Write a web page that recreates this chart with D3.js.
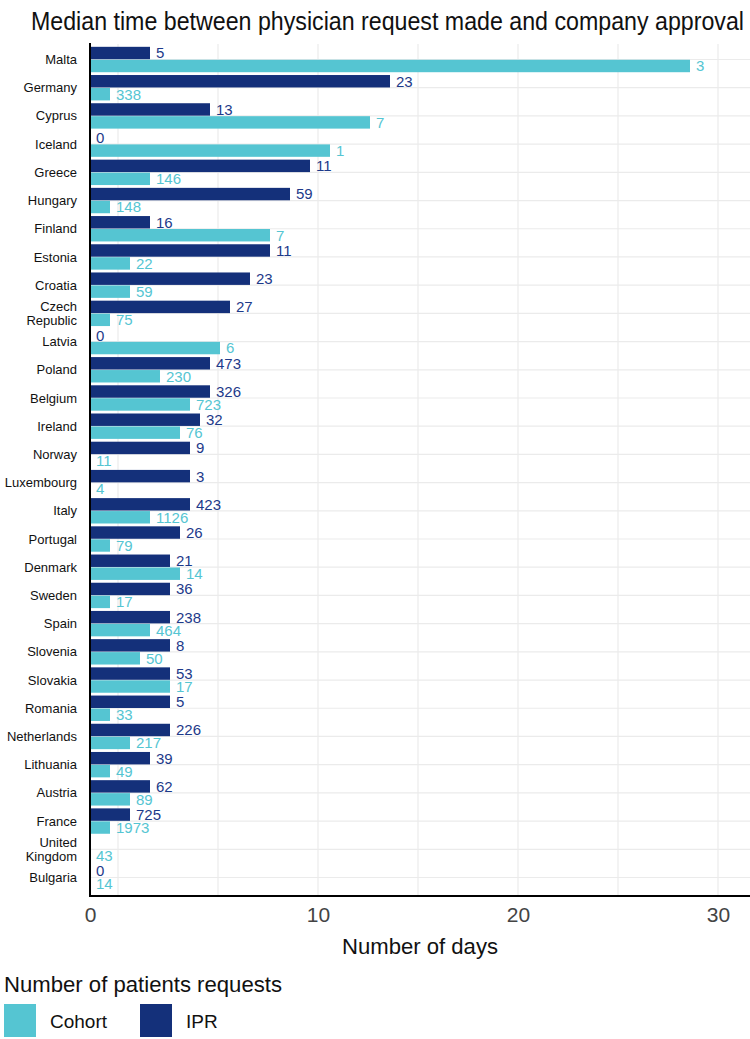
<!DOCTYPE html>
<html>
<head>
<meta charset="utf-8">
<script src="https://cdn.jsdelivr.net/npm/d3@7"></script>
<style>
  body { margin: 0; background: #fff; }
  svg { display: block; font-family: "Liberation Sans", Arial, sans-serif; }
</style>
</head>
<body>
<svg id="chart" width="750" height="1039"></svg>
<script>
// ---- data ----
const countries = ["Malta","Germany","Cyprus","Iceland","Greece","Hungary","Finland","Estonia","Croatia","Czech Republic","Latvia","Poland","Belgium","Ireland","Norway","Luxembourg","Italy","Portugal","Denmark","Sweden","Spain","Slovenia","Slovakia","Romania","Netherlands","Lithuania","Austria","France","United Kingdom","Bulgaria"];
// median number of days (bar length)
const iprDays    = [3,15,6,0,11,10,3,9,8,7,0,6,6,5.5,5,5,5,4.5,4,4,4,4,4,4,4,3,3,2,null,0];
const cohortDays = [30,1,14,12,3,1,9,2,2,1,6.5,3.5,5,4.5,0,0,3,1,4.5,1,3,2.5,4,1,2,1,2,1,0,0];
// number of patient requests (bar labels)
const iprRequests    = [5,23,13,0,11,59,16,11,23,27,0,473,326,32,9,3,423,26,21,36,238,8,53,5,226,39,62,725,null,0];
const cohortRequests = [3,338,7,1,146,148,7,22,59,75,6,230,723,76,11,4,1126,79,14,17,464,50,17,33,217,49,89,1973,43,14];
const seriesNames = ["IPR","Cohort"];
const legendOrder = ["Cohort","IPR"];
const tickLabels = [0,10,20,30];
const gridValues = [0,5,10,15,20,25,30];

const colors = { IPR: "#14307a", Cohort: "#55c5d2" };
const textColors = { IPR: "#1d3a8a", Cohort: "#55c5d2" };

const svg = d3.select("#chart");

// scales
const x = d3.scaleLinear().domain([0, 33]).range([90, 750]);
const xGrid = d3.scaleLinear().domain([0, 30]).range([118, 718]);
const xTickLabel = d3.scaleLinear().domain([0, 10, 30]).range([90, 318, 718]);
const y = d3.scaleBand().domain(countries).range([44, 893]).padding(0.1);
const ySub = d3.scaleBand().domain(seriesNames).range([0, y.bandwidth()]).paddingInner(0.04);

// title
svg.append("text")
  .attr("x", 31).attr("y", 30)
  .attr("font-size", 25)
  .attr("textLength", 713).attr("lengthAdjust", "spacingAndGlyphs")
  .attr("fill", "#111")
  .text("Median time between physician request made and company approval");

// grid
const grid = svg.append("g");
grid.selectAll("line.v").data(gridValues).join("line")
  .attr("class", "v")
  .attr("x1", d => xGrid(d)).attr("x2", d => xGrid(d))
  .attr("y1", 44).attr("y2", 896)
  .attr("stroke", "#ebebeb").attr("stroke-width", 1.2);
grid.selectAll("line.h").data(countries).join("line")
  .attr("class", "h")
  .attr("x1", 90).attr("x2", 750)
  .attr("y1", d => y(d) + y.bandwidth() / 2).attr("y2", d => y(d) + y.bandwidth() / 2)
  .attr("stroke", "#ebebeb").attr("stroke-width", 1.2);

// rows
const rows = countries.map((c, i) => ({
  country: c,
  values: [
    { key: "IPR", days: iprDays[i], n: iprRequests[i] },
    { key: "Cohort", days: cohortDays[i], n: cohortRequests[i] }
  ]
}));

const rowG = svg.append("g").selectAll("g").data(rows).join("g")
  .attr("transform", d => `translate(0,${y(d.country)})`);

rowG.selectAll("rect").data(d => d.values.filter(v => v.days !== null)).join("rect")
  .attr("x", x(0))
  .attr("y", d => ySub(d.key))
  .attr("width", d => x(d.days) - x(0))
  .attr("height", ySub.bandwidth())
  .attr("fill", d => colors[d.key]);

rowG.selectAll("text").data(d => d.values.filter(v => v.n !== null)).join("text")
  .attr("x", d => x(d.days) + 6)
  .attr("y", d => ySub(d.key) + ySub.bandwidth() / 2)
  .attr("dy", "0.36em")
  .attr("font-size", 15)
  .attr("fill", d => textColors[d.key])
  .text(d => d.n);

// y axis labels
const yLab = svg.append("g").selectAll("text").data(countries).join("text")
  .attr("x", 77)
  .attr("y", d => y(d) + y.bandwidth() / 2)
  .attr("text-anchor", "end")
  .attr("font-size", 13)
  .attr("fill", "#111");
yLab.each(function(d) {
  const words = d.split(" ");
  const t = d3.select(this);
  if (words.length === 1) {
    t.append("tspan").attr("x", 77).attr("dy", "0.35em").text(d);
  } else {
    t.append("tspan").attr("x", 77).attr("dy", "-0.2em").text(words[0]);
    t.append("tspan").attr("x", 77).attr("dy", "1.1em").text(words.slice(1).join(" "));
  }
});

// axes lines
svg.append("line").attr("x1", 90).attr("x2", 90).attr("y1", 43).attr("y2", 897)
  .attr("stroke", "#000").attr("stroke-width", 2);
svg.append("line").attr("x1", 89).attr("x2", 750).attr("y1", 896).attr("y2", 896)
  .attr("stroke", "#000").attr("stroke-width", 2);

// x tick labels
const xAxis = d3.axisBottom(xTickLabel).tickValues(tickLabels).tickSize(0).tickPadding(0).tickFormat(d3.format("d"));
const xAxisG = svg.append("g").attr("transform", "translate(0,907)").call(xAxis);
xAxisG.select(".domain").remove();
xAxisG.selectAll("text")
  .attr("font-size", 21)
  .attr("font-family", "'Liberation Sans', Arial, sans-serif")
  .attr("fill", "#444")
  .attr("dy", "0.71em");

// x axis title
svg.append("text")
  .attr("x", 342).attr("y", 954)
  .attr("font-size", 22)
  .attr("textLength", 156).attr("lengthAdjust", "spacingAndGlyphs")
  .attr("fill", "#111")
  .text("Number of days");

// legend
svg.append("text")
  .attr("x", 4).attr("y", 992)
  .attr("font-size", 22)
  .attr("textLength", 278).attr("lengthAdjust", "spacingAndGlyphs")
  .attr("fill", "#111")
  .text("Number of patients requests");

const legX = d3.scaleOrdinal().domain(legendOrder).range([4, 140]);
const leg = svg.append("g").selectAll("g").data(legendOrder).join("g")
  .attr("transform", d => `translate(${legX(d)},1004)`);
leg.append("rect").attr("width", 32).attr("height", 33).attr("fill", d => colors[d]);
leg.append("text")
  .attr("x", 46).attr("y", 24)
  .attr("font-size", 19)
  .attr("fill", "#111")
  .text(d => d);
</script>
</body>
</html>
